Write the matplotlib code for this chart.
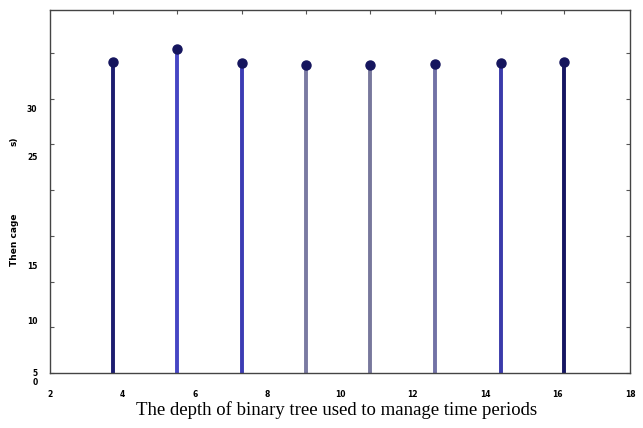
import matplotlib
matplotlib.use("Agg")
import matplotlib.pyplot as plt
import matplotlib.transforms as mtransforms

# depth values (as placed in the picture) and measured times
depth = [3.73, 5.51, 7.30, 9.05, 10.83, 12.62, 14.43, 16.18]
time_val = [39.0, 40.45, 38.9, 38.7, 38.7, 38.8, 38.9, 39.0]
stem_colors = ["#1c1c70", "#4646c4", "#3c3cb4", "#7a7aa2",
               "#78789c", "#7272a6", "#3a3aaa", "#161662"]

xtick_vals = [2, 4, 6, 8, 10, 12, 14, 16, 18]
ytick_vals = [5, 10, 15, 20, 25, 30, 35, 40]
# y tick labels as printed (garbled positions in the source image)
ylab_text = ["0", "5", "10", "15", "25", "30"]
ylab_pos = [4.0, 5.0, 10.6, 16.6, 28.6, 33.8]

fig = plt.figure(figsize=(6.43, 4.28), dpi=100)
ax = fig.add_axes([0.078, 0.1285, 0.902, 0.848])

for x, y, c in zip(depth, time_val, stem_colors):
    ax.plot([x, x], [5, y], color=c, lw=2.8, solid_capstyle="butt")
ax.plot(depth, time_val, "o", color="#15155e", ms=6.5, zorder=3)

ax.set_xlim(2, 18)
ax.set_ylim(5, 44.7)

# tick marks: at stems on x, every 5 on y, pointing inward on all sides
ax.set_xticks(depth)
ax.set_xticklabels([])
ax.set_yticks(ytick_vals)
ax.set_yticklabels([])
ax.tick_params(direction="in", length=3, width=0.8, color="#555555",
               top=True, right=True)

ax.set_xticks(xtick_vals, [str(v) for v in xtick_vals], minor=True)
ax.tick_params(axis="x", which="minor", length=0, pad=12, labelsize=5.5)
for lab in ax.get_xticklabels(minor=True):
    lab.set_fontweight("bold")

trans = mtransforms.blended_transform_factory(ax.transAxes, ax.transData)
for t, p in zip(ylab_text, ylab_pos):
    ax.text(-0.022, p, t, transform=trans, ha="right", va="center",
            fontsize=5.5, fontweight="bold", clip_on=False)

for s in ax.spines.values():
    s.set_color("#444444")
    s.set_linewidth(1.0)

fig.text(0.022, 0.44, "Then cage", rotation=90, ha="center", va="center",
         fontsize=6.5, fontweight="bold")
fig.text(0.022, 0.67, "s)", rotation=90, ha="center", va="center",
         fontsize=6.5, fontweight="bold")

fig.text(0.524, 0.043, "The depth of binary tree used to manage time periods",
         ha="center", va="center", fontsize=13.5, family="Liberation Serif")

fig.savefig("out.png", dpi=100)
